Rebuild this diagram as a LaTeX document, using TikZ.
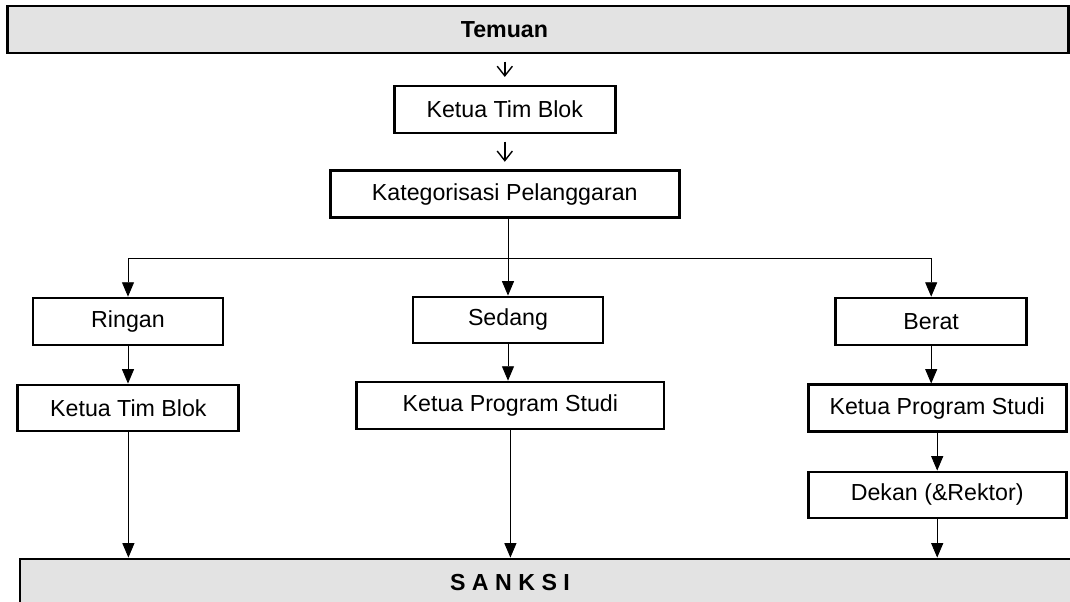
\documentclass[tikz,border=0pt]{standalone}
\usepackage{fontspec}
\setmainfont{Liberation Sans}
\usetikzlibrary{arrows.meta, positioning, calc}
\tikzset{
  dgm/.style={font=\fontsize{16.5}{19}\selectfont,
              >={Triangle[length=3.6mm, width=3mm]}, line width=0.6pt},
  blk/.style={draw, line width=2pt, align=center, inner sep=3pt,
              minimum height=11.75mm},
  bar/.style={blk, fill=black!11},
  ttl/.style={font=\fontsize{16.5}{19}\selectfont\bfseries, inner sep=1pt},
  ar/.style={->},
  sar/.style={-{Straight Barb[length=2.4mm, width=3.8mm]}, line width=1pt,
              shorten <=5pt, shorten >=5.5pt}
}

\begin{document}
\begin{tikzpicture}[dgm]
    \useasboundingbox (0,0) rectangle (26.75,15.05);

    \node[bar, minimum width=265.25mm] (temuan) at (13.44,14.31) {};
    \node[ttl] (temuantxt) at (12.61,14.31) {Temuan};
    \node[blk, minimum width=55.25mm] (ktb) at (12.62,12.31) {Ketua Tim Blok};
    \node[blk, minimum width=87.25mm] (kat) at (12.62,10.19) {Kategorisasi Pelanggaran};

    \node[blk, minimum width=47.5mm] (ringan) at (3.20,7.01) {Ringan};
    \node[blk, minimum width=47.5mm, minimum height=11.5mm] (sedang) at (12.70,7.05) {Sedang};
    \node[blk, minimum width=47.75mm] (berat) at (23.28,7.01) {Berat};

    \node[blk, minimum width=55.25mm, minimum height=11.5mm] (ketuatim) at (3.21,4.85) {Ketua Tim Blok};
    \node[blk, minimum width=76.75mm] (kpssedang) at (12.76,4.91) {Ketua Program Studi};
    \node[blk, minimum width=64.5mm] (kpsberat) at (23.43,4.84) {Ketua Program Studi};
    \node[blk, minimum width=64.5mm, minimum height=11.5mm] (dekan) at (23.43,2.675) {Dekan (\&Rektor)};

    \node[bar, minimum width=270mm, minimum height=15.75mm] (sanksi) at (14.0,0.2875) {};
    \node[ttl] (sanksitxt) at (12.75,0.475) {S A N K S I};

    \draw[sar] (ktb.north |- temuan.south) -- (ktb.north);
    \draw[sar] (ktb) -- (kat);

    \coordinate (fork) at (12.70,8.60);
    \draw[ar] (kat.south -| sedang) -- (sedang);
    \draw[ar] (fork) -| (ringan);
    \draw[ar] (fork) -| (berat);

    \draw[ar] (ringan.south) -- (ringan.south |- ketuatim.north);
    \draw[ar] (sedang.south) -- (sedang.south |- kpssedang.north);
    \draw[ar] (berat.south) -- (berat.south |- kpsberat.north);
    \draw[ar] (kpsberat) -- (dekan);

    \draw[ar] (ketuatim) -- (ketuatim |- sanksi.north);
    \draw[ar] (kpssedang) -- (kpssedang |- sanksi.north);
    \draw[ar] (dekan) -- (dekan |- sanksi.north);
  \end{tikzpicture}
\end{document}
